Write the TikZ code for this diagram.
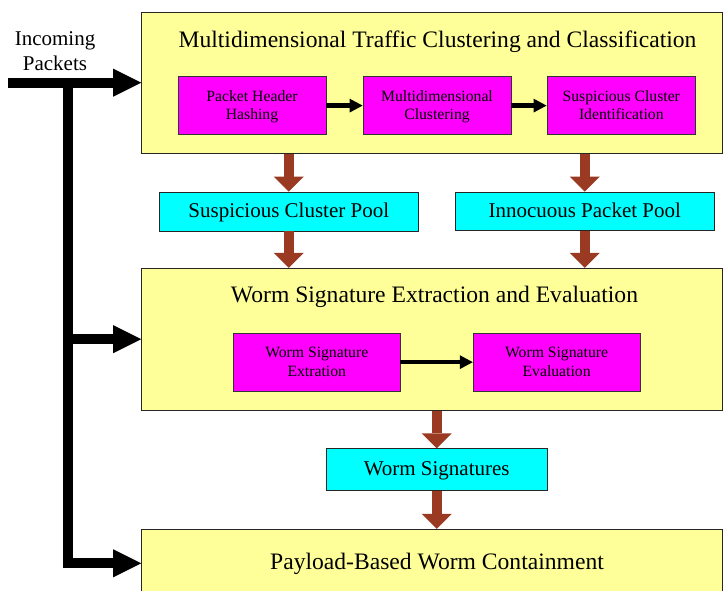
\documentclass[tikz,border=0pt]{standalone}
\usepackage{fontspec}
\setmainfont{Liberation Serif}
\usetikzlibrary{arrows.meta}
\definecolor{stageyellow}{RGB}{255,255,153}
\definecolor{procmag}{RGB}{255,0,255}
\definecolor{poolcyan}{RGB}{0,255,255}
\definecolor{flowbrown}{RGB}{155,58,35}
\tikzset{
  stagebox/.style={draw=black!85, line width=1pt, fill=stageyellow, inner sep=0pt, minimum width=580.8pt},
  procbox/.style={draw=black!80, line width=0.9pt, fill=procmag, inner sep=0pt, minimum height=57.5pt,
    align=center, font=\fontsize{15.7}{17.6}\selectfont, text height=30.8pt, text depth=3.4pt},
  workbox/.style={procbox, font=\fontsize{15.7}{19.4}\selectfont, text height=32.5pt, text depth=3.4pt},
  poolbox/.style={draw=black!85, line width=0.9pt, fill=poolcyan, inner sep=0pt,
    font=\fontsize{21}{25}\selectfont, text height=15.5pt, text depth=4pt},
  titletext/.style={inner sep=0pt, anchor=base, font=\fontsize{23.6}{28}\selectfont},
  labeltext/.style={inner sep=0pt, anchor=base, font=\fontsize{21}{25}\selectfont},
  brownflow/.style={draw=flowbrown, line width=10pt, -{Triangle[width=30pt,length=15pt,line width=0pt]}, flowbrown},
  blackfeed/.style={draw=black, line width=10pt, line join=miter, -{Triangle[width=28pt,length=28pt,line width=0pt]}},
  smallflow/.style={draw=black, line width=4.5pt, -{Triangle[width=14pt,length=13pt,line width=0pt]}}
}
\begin{document}
\begin{tikzpicture}[x=1pt,y=-1pt]
\useasboundingbox (0,0) rectangle (724,590);
\clip (0,0) rectangle (724,590);
% stages
\node[stagebox, minimum height=141.3pt] (s1) at (432.1,82.7) {};
\node[stagebox, minimum height=141.7pt] (s2) at (432.1,339.2) {};
\node[stagebox, minimum height=68pt] (s3) at (432.1,563.3) {};
\node[titletext] (t1) at (437.5,47) {Multidimensional Traffic Clustering and Classification};
\node[titletext] (t2) at (434.5,302.7) {Worm Signature Extraction and Evaluation};
\node[titletext] (t3) at (437,569.3) {Payload-Based Worm Containment};
% process boxes
\node[procbox, minimum width=148pt] (m1) at (252,105.6) {Packet Header\\Hashing};
\node[procbox, minimum width=148pt] (m2) at (437,105.6) {Multidimensional\\Clustering};
\node[procbox, minimum width=148.7pt] (m3) at (621.3,105.6) {Suspicious Cluster\\Identification};
\node[workbox, minimum width=166.5pt, minimum height=57.7pt] (w1) at (316.75,362.15) {Worm Signature\\Extration};
\node[workbox, minimum width=166.8pt, minimum height=57.7pt] (w2) at (556.6,362.15) {Worm Signature\\Evaluation};
% pools
\node[poolbox, minimum width=258.5pt, minimum height=39pt] (c1) at (288.75,211.5) {Suspicious Cluster Pool};
\node[poolbox, minimum width=258.5pt, minimum height=38.5pt] (c2) at (584.75,211.3) {Innocuous Packet Pool};
\node[poolbox, minimum width=221.4pt, minimum height=42pt] (c3) at (436.7,469.75) {Worm Signatures};
% incoming label
\node[labeltext] (inc1) at (55,45) {Incoming};
\node[labeltext] (inc2) at (55,70) {Packets};
% small arrows
\draw[smallflow] (m1.east) -- (m2.west);
\draw[smallflow] (m2.east) -- (m3.west);
\draw[smallflow] (w1.east) -- (w2.west);
% brown arrows
\draw[brownflow] (c1.north |- s1.south) -- (c1.north);
\draw[brownflow] (c2.north |- s1.south) -- (c2.north);
\draw[brownflow] (c1.south) -- (c1.south |- s2.north);
\draw[brownflow] (c2.south) -- (c2.south |- s2.north);
\draw[brownflow] (c3.north |- s2.south) -- (c3.north);
\draw[brownflow] (c3.south) -- (c3.south |- s3.north);
% black feed arrows
\coordinate (src) at (8.3,82.7);
\coordinate (trunktop) at (67.7,82.7);
\coordinate (trunkmid) at (67.7,339.2);
\coordinate (trunkbot) at (67.7,563.3);
\draw[blackfeed] (src) -- (s1.west);
\draw[blackfeed] (trunktop) -- (trunkbot) -- (s3.west);
\draw[blackfeed] (trunkmid) -- (s2.west);
\end{tikzpicture}
\end{document}
